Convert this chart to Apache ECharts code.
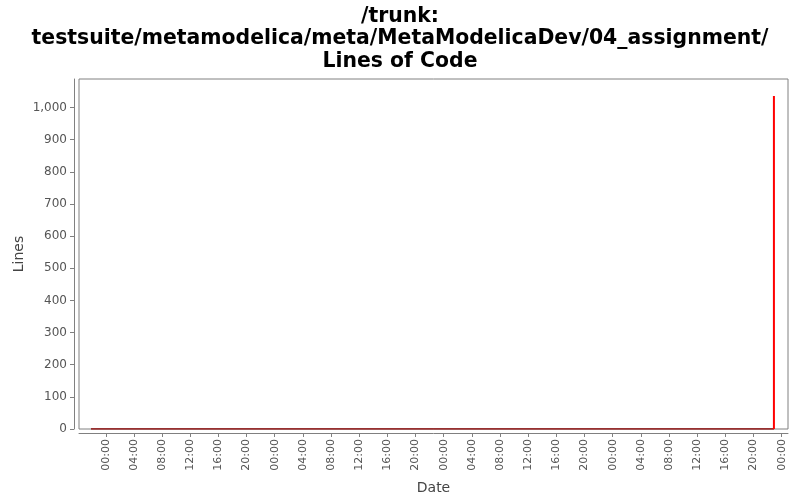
<!DOCTYPE html>
<html><head><meta charset="utf-8">
<script src="https://cdn.jsdelivr.net/npm/echarts@6/dist/echarts.min.js"></script>
<style>html,body{margin:0;padding:0;background:#fff}#c{width:800px;height:500px}</style>
</head><body><div id="c"></div>
<script>
var titleLines = ["/trunk:", "testsuite/metamodelica/meta/MetaModelicaDev/04_assignment/", "Lines of Code"];
var baseDate = "2010-01-01T00:00:00Z";
var flatDates = ["2009-12-31T21:54:00Z", "2010-01-04T22:54:00Z"];
var flatValues = [0, 0];
var spikeDates = ["2010-01-04T22:54:00Z", "2010-01-04T22:54:00Z"];
var spikeValues = [0, 1036];
var tickHours = [0,4,8,12,16,20,24,28,32,36,40,44,48,52,56,60,64,68,72,76,80,84,88,92,96];
var yMax = 1089;

function hoursOf(d){ return (Date.parse(d) - Date.parse(baseDate)) / 3600000; }
function pairs(ds, vs){ return ds.map(function(d,i){ return [hoursOf(d), vs[i]]; }); }

var chart = echarts.init(document.getElementById('c'));
chart.setOption({
  animation: false,
  title: {
    text: titleLines.join('\n'), left: 'center', top: 0,
    textStyle: {fontFamily: 'DejaVu Sans', fontWeight: 'bold', fontSize: 20.4, lineHeight: 22.5, color: '#000'}
  },
  grid: {left: 79, right: 12, top: 79, bottom: 71, show: true, borderColor: '#808080', borderWidth: 1,
         backgroundColor: '#fff', outerBoundsMode: 'none', containLabel: false},
  xAxis: {
    type: 'value', min: -3.8, max: 96.9, offset: 4,
    name: 'Date', nameLocation: 'middle', nameGap: 48, nameMoveOverlap: false,
    nameTextStyle: {fontFamily: 'DejaVu Sans', fontSize: 14, color: '#444'},
    axisLine: {show: true, onZero: false, lineStyle: {color: '#808080'}},
    axisTick: {show: true, length: 4, lineStyle: {color: '#808080'}, customValues: tickHours},
    axisLabel: {rotate: 90, fontFamily: 'DejaVu Sans', fontSize: 11, color: '#555', margin: 6,
      customValues: tickHours,
      formatter: function(v){ var h = ((Math.round(v) % 24) + 24) % 24; return (h < 10 ? '0' : '') + h + ':00'; }},
    splitLine: {show: false}
  },
  yAxis: {
    type: 'value', min: 0, max: yMax, interval: 100, offset: 5,
    name: 'Lines', nameLocation: 'middle', nameGap: 48, nameMoveOverlap: false,
    nameTextStyle: {fontFamily: 'DejaVu Sans', fontSize: 14, color: '#444'},
    axisLine: {show: true, onZero: false, lineStyle: {color: '#808080'}},
    axisTick: {show: true, length: 4, lineStyle: {color: '#808080'}},
    axisLabel: {fontFamily: 'DejaVu Sans', fontSize: 12, color: '#555', margin: 7, showMaxLabel: false,
      formatter: function(v){ return v.toLocaleString('en-US'); }},
    splitLine: {show: false}
  },
  series: [
    {type: 'line', data: pairs(flatDates, flatValues), showSymbol: false, symbol: 'none',
     lineStyle: {color: '#8b0000', width: 1.5}, z: 3},
    {type: 'line', data: pairs(spikeDates, spikeValues), showSymbol: false, symbol: 'none',
     lineStyle: {color: '#ff0000', width: 2}, z: 4}
  ]
});
</script></body></html>
